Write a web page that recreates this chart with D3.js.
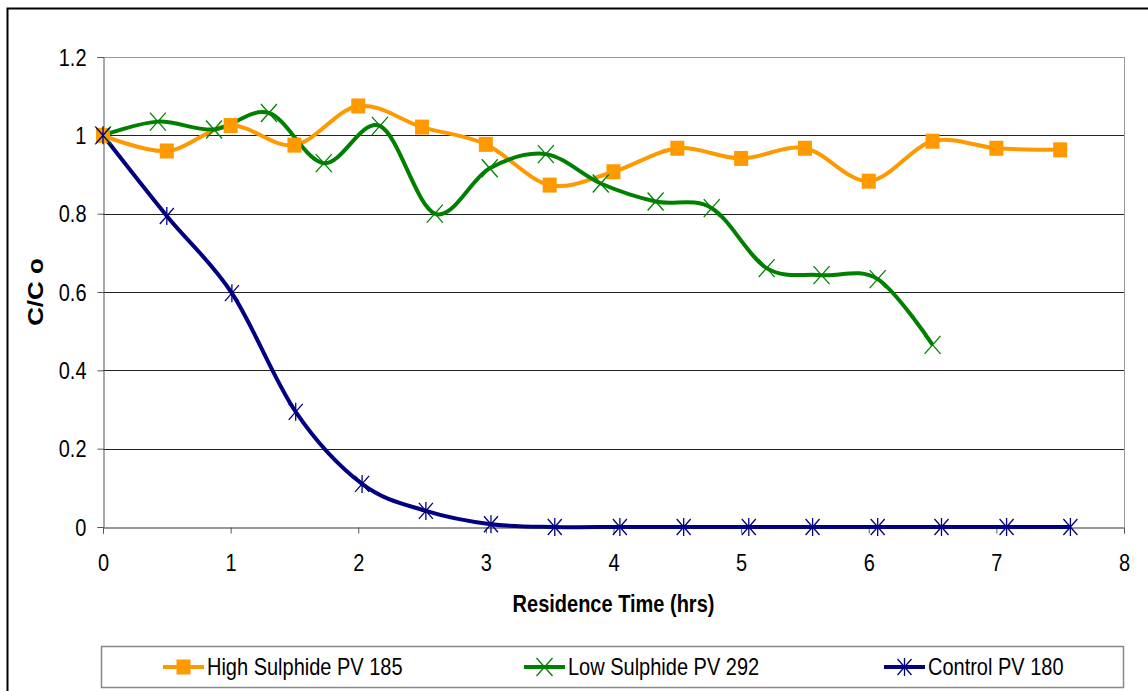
<!DOCTYPE html>
<html>
<head>
<meta charset="utf-8">
<script src="https://cdn.jsdelivr.net/npm/d3@7"></script>
<style>
  body { margin: 0; background: #fff; }
  svg { display: block; font-family: "Liberation Sans", Arial, sans-serif; }
</style>
</head>
<body>
<div id="chart"></div>
<script>
// data
var highX = [0, 0.5, 1, 1.5, 2, 2.5, 3, 3.5, 4, 4.5, 5, 5.5, 6, 6.5, 7, 7.5];
var highY = [1.0, 0.96, 1.025, 0.975, 1.075, 1.021, 0.977, 0.873, 0.907, 0.967, 0.941, 0.967, 0.883, 0.985, 0.967, 0.963];

var lowX = [0, 0.43, 0.87, 1.3, 1.73, 2.17, 2.6, 3.03, 3.47, 3.9, 4.33, 4.77, 5.2, 5.63, 6.07, 6.5];
var lowY = [1.0, 1.035, 1.015, 1.057, 0.929, 1.024, 0.8, 0.916, 0.952, 0.877, 0.831, 0.814, 0.661, 0.643, 0.633, 0.465];

var ctrlX = [0, 0.5, 1.01, 1.51, 2.03, 2.53, 3.04, 3.54, 4.05, 4.55, 5.06, 5.56, 6.07, 6.57, 7.08, 7.58];
var ctrlY = [1.0, 0.794, 0.597, 0.294, 0.11, 0.041, 0.007, 0, 0, 0, 0, 0, 0, 0, 0, 0];

var xTicks = [0, 1, 2, 3, 4, 5, 6, 7, 8];
var yTicks = [0, 0.2, 0.4, 0.6, 0.8, 1, 1.2];

var seriesNames = ["High Sulphide PV 185", "Low Sulphide PV 292", "Control PV 180"];
var seriesColors = ["#FF9900", "#008000", "#000080"];
var seriesMarks = ["square", "x", "star"];

var W = 1148, H = 691;
var margin = {top: 57, right: 24, bottom: 164, left: 103};
var fs = 20, sy = 1.18; // font size and the vertical stretch of the original

var svg = d3.select('#chart').append('svg')
	.attr('width', W)
	.attr('height', H);

// outer chart border
svg.append('rect')
	.attr('x', 7.5).attr('y', 8.5)
	.attr('width', W + 10).attr('height', H + 10)
	.style('fill', 'white')
	.style('stroke', 'black')
	.style('stroke-width', 2);

var x = d3.scaleLinear().domain([0, 8]).range([margin.left, W - margin.right]);
var y = d3.scaleLinear().domain([0, 1.2]).range([H - margin.bottom, margin.top]);

// text with the same vertical stretch as the reference
function label(px, py, str, anchor, bold) {
	return svg.append('text')
		.attr('transform', 'translate(' + px + ',' + py + ') scale(1,' + sy + ')')
		.attr('text-anchor', anchor)
		.attr('dy', '0.35em')
		.style('font-size', fs + 'px')
		.style('font-weight', bold ? 'bold' : 'normal')
		.text(str);
}

// gridlines
svg.append('g').selectAll('line')
	.data(yTicks.filter(function(d){ return d > 0 && d < 1.2; }))
	.enter().append('line')
	.attr('x1', x(0)).attr('x2', x(8))
	.attr('y1', function(d){ return Math.round(y(d)) + 0.5; })
	.attr('y2', function(d){ return Math.round(y(d)) + 0.5; })
	.style('stroke', '#222')
	.style('stroke-width', 1);

// plot area border (top & right, grey)
svg.append('path')
	.attr('d', 'M' + x(0) + ',' + (Math.round(y(1.2)) + 0.5) + 'H' + (Math.round(x(8)) + 0.5) + 'V' + y(0))
	.style('fill', 'none')
	.style('stroke', '#999')
	.style('stroke-width', 1);

// axes
var xAxis = d3.axisBottom(x).tickValues(xTicks).tickSize(6).tickFormat(d3.format('d'));
var yAxis = d3.axisLeft(y).tickValues(yTicks).tickSize(6)
	.tickFormat(function(d){ return d === 0 || d === 1 ? d3.format('d')(d) : d3.format('.1f')(d); });

var gx = svg.append('g')
	.attr('transform', 'translate(0,' + (Math.round(y(0)) + 0.5) + ')')
	.call(xAxis);
gx.select('.domain').style('stroke', '#333');
gx.selectAll('.tick line').style('stroke', '#555');
gx.selectAll('.tick text')
	.attr('y', 0).attr('dy', '0.35em')
	.attr('transform', 'translate(0,35) scale(1,' + sy + ')')
	.style('font-size', fs + 'px')
	.style('font-family', '"Liberation Sans", Arial, sans-serif')
	.style('fill', '#000');

var gy = svg.append('g')
	.attr('transform', 'translate(' + (Math.round(x(0)) + 0.5) + ',0)')
	.call(yAxis);
gy.select('.domain').style('stroke', '#555');
gy.selectAll('.tick line').style('stroke', '#555');
gy.selectAll('.tick text')
	.attr('x', 0).attr('dy', '0.35em')
	.attr('transform', 'translate(-17,0) scale(1,' + sy + ')')
	.style('font-size', fs + 'px')
	.style('font-family', '"Liberation Sans", Arial, sans-serif')
	.style('fill', '#000');

// axis titles
label(x(4), 604, 'Residence Time (hrs)', 'middle', true);

svg.append('text')
	.attr('transform', 'translate(35,' + y(0.6) + ') rotate(-90) scale(' + sy + ',1)')
	.attr('text-anchor', 'middle')
	.attr('dy', '0.35em')
	.style('font-size', '22px')
	.style('font-weight', 'bold')
	.text('C/C o');

//---series---
var allData = [
	d3.zip(highX, highY),
	d3.zip(lowX, lowY),
	d3.zip(ctrlX, ctrlY)
];

var line = d3.line()
	.x(function(d){ return x(d[0]); })
	.y(function(d){ return y(d[1]); })
	.curve(d3.curveCardinal.tension(0));

function drawMark(g, kind, color) {
	if (kind === 'square') {
		g.append('rect')
			.attr('x', -7).attr('y', -7.5)
			.attr('width', 14).attr('height', 15)
			.style('fill', color);
	} else if (kind === 'x') {
		g.append('path')
			.attr('d', 'M-8,-9L8,9M-8,9L8,-9')
			.style('stroke', color)
			.style('stroke-width', 1.3)
			.style('fill', 'none');
	} else {
		g.append('path')
			.attr('d', 'M-7,-8L7,8M-7,8L7,-8M0,-9V9')
			.style('stroke', color)
			.style('stroke-width', 1.3)
			.style('fill', 'none');
	}
}

allData.forEach(function(data, i){
	svg.append('path')
		.datum(data)
		.attr('d', line)
		.style('fill', 'none')
		.style('stroke', seriesColors[i])
		.style('stroke-width', 4)
		.style('stroke-linejoin', 'round');
});

allData.forEach(function(data, i){
	svg.append('g').selectAll('g')
		.data(data)
		.enter().append('g')
		.attr('transform', function(d){ return 'translate(' + x(d[0]) + ',' + y(d[1]) + ')'; })
		.each(function(){ drawMark(d3.select(this), seriesMarks[i], seriesColors[i]); });
});

//---legend---
svg.append('rect')
	.attr('x', 101.5).attr('y', 646.5)
	.attr('width', 1022).attr('height', 41)
	.style('fill', 'white')
	.style('stroke', '#888')
	.style('stroke-width', 1.5);

var legX = [163, 524, 884];
seriesNames.forEach(function(name, i){
	var g = svg.append('g').attr('transform', 'translate(' + legX[i] + ',667)');
	g.append('line')
		.attr('x1', 0).attr('x2', 41)
		.style('stroke', seriesColors[i])
		.style('stroke-width', 4);
	var m = g.append('g').attr('transform', 'translate(20.5,0)');
	drawMark(m, seriesMarks[i], seriesColors[i]);
	label(legX[i] + 44, 667, name, 'start', false);
});
</script>
</body>
</html>
